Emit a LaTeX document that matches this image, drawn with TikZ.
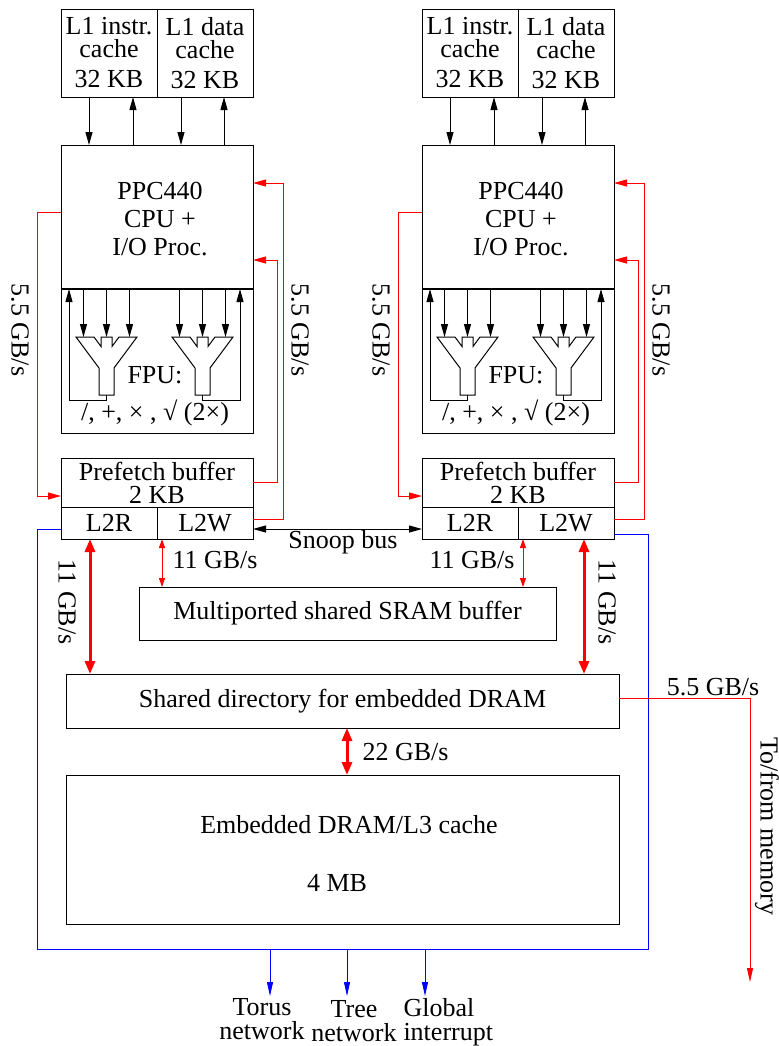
\documentclass[tikz,border=0pt]{standalone}
\usepackage{fontspec}
\setmainfont{Liberation Serif}
\usetikzlibrary{arrows.meta,positioning}

\begin{document}
\begin{tikzpicture}[
        x=0.5pt, y=-0.5pt,
        line width=0.5pt,
        every node/.style={font=\fontsize{13}{14}\selectfont},
        >={Triangle[length=6.5pt,width=3.5pt]},
        box/.style={draw, rectangle, inner sep=0pt, outer sep=0pt, align=center},
        txt/.style={inner sep=0pt, align=center, text=black},
        rot/.style={inner sep=0pt, rotate=-90},
        bus/.style={line width=1pt},
        rline/.style={red, ->},
        bline/.style={blue},
        barr/.style={blue, ->, >={Triangle[length=7pt,width=3pt]}},
        netlbl/.style={txt, font=\fontsize{13}{12}\selectfont},
        thinr/.style={red, <->, >={Triangle[length=4.5pt,width=3pt]}},
        thickr/.style={red, <->, line width=1.5pt, >={Triangle[length=6.5pt,width=5pt]}}
    ]
        \useasboundingbox (0,0) rectangle (779,1046);

        % Shared memory blocks
        \node[box, minimum width=208.5pt, minimum height=26.5pt] (sram) at (347.5,613.5) {Multiported shared SRAM buffer};
        \node[box, minimum width=276.5pt, minimum height=27pt] (dir) at (342.5,701) {Shared directory for embedded DRAM};
        \node[box, minimum width=276.5pt, minimum height=74.5pt] (dram) at (342.5,849.5) {};
        \node[txt] (dramtxt) at (349,825) {Embedded DRAM/L3 cache};
        \node[txt] (dramsize) at (337,883) {4 MB};

        % Two processor cores
        \foreach \s/\dx in {L/0, R/361} {
            \node[box, minimum width=48pt, minimum height=44pt, font=\fontsize{13}{11.5}\selectfont] (l1i\s) at (109+\dx,53) {L1 instr.\\cache\\[3.5pt]32 KB};
            \node[box, minimum width=48pt, minimum height=44pt, font=\fontsize{13}{11.5}\selectfont, right=0pt of l1i\s] (l1d\s) {L1 data\\cache\\[3.5pt]32 KB};

            \node[box, minimum width=96pt, minimum height=144pt] (cpu\s) at (157+\dx,289) {};
            \node[txt] (cputxt\s) at (160+\dx,219) {PPC440\\CPU +\\I/O Proc.};
            \draw[bus] (cpu\s.west) -- (cpu\s.east);

            % FPU pipes
            \foreach \c/\side in {106.5/-1, 202.5/1} {
                \begin{scope}[shift={(\c+\dx,337)}]
                    \draw (-30.5,0) -- (-12.5,0) -- (-5.5,9.5) -- (-5.5,0) -- (5.5,0) -- (5.5,9.5) -- (12.5,0) -- (30.5,0)
                        -- (7.5,31) -- (7.5,58) -- (-7.5,58) -- (-7.5,31) -- cycle;
                    \foreach \a in {-23,0,23}
                        \draw[->] (\a,-48) -- (\a,0);
                    \draw[->] (0,58) -- (0,63) -- (\side*37.5,63) -- (\side*37.5,-48);
                \end{scope}
            }
            \node[txt] (fpu\s) at (155+\dx,375) {FPU:};
            \node[txt] (ops\s) at (155+\dx,413) {/, +, × , √ (2×)};

            \node[box, minimum width=96pt, minimum height=24.5pt, font=\fontsize{13}{11.5}\selectfont] (pf\s) at (157+\dx,482.5) {Prefetch buffer\\2 KB};
            \node[box, minimum width=48pt, minimum height=16pt] (l2r\s) at (109+\dx,523) {L2R};
            \node[box, minimum width=48pt, minimum height=16pt] (l2w\s) at (205+\dx,523) {L2W};

            % L1 <-> CPU
            \draw[->] ([xshift=-10pt]l1i\s.south) -- ([xshift=-10pt]l1i\s.south |- cpu\s.north);
            \draw[<-] ([xshift=12pt]l1i\s.south) -- ([xshift=12pt]l1i\s.south |- cpu\s.north);
            \draw[->] ([xshift=-12pt]l1d\s.south) -- ([xshift=-12pt]l1d\s.south |- cpu\s.north);
            \draw[<-] ([xshift=9.5pt]l1d\s.south) -- ([xshift=9.5pt]l1d\s.south |- cpu\s.north);

            % CPU <-> prefetch buffer
            \draw[rline] ([yshift=38.5pt]cpu\s.west) -| (37+\dx,496) -- ([yshift=-6.75pt]pf\s.west);
            \draw[rline] (pf\s.east) -| (277+\dx,260) -- ([yshift=14.5pt]cpu\s.east);
            \draw[rline] ([yshift=2pt]l2w\s.east) -| (283+\dx,183) -- ([yshift=53pt]cpu\s.east);
            \node[rot] (bwl\s) at (20+\dx,330) {5.5 GB/s};
            \node[rot] (bwr\s) at (300+\dx,330) {5.5 GB/s};

            \draw[thinr] ([xshift=2.5pt]l2w\s.south west) -- ([xshift=2.5pt]l2w\s.south west |- sram.north);
        }

        % L2 <-> directory <-> DRAM
        \draw[thickr] ([xshift=-9.5pt]l2rL.south) -- ([xshift=-9.5pt]l2rL.south |- dir.north);
        \draw[thickr] ([xshift=9pt]l2wR.south) -- ([xshift=9pt]l2wR.south |- dir.north);
        \draw[thickr] ([xshift=2.25pt]dir.south) -- ([xshift=2.25pt]dir.south |- dram.north);
        \node[txt] (bw11l) at (215,560) {11 GB/s};
        \node[txt] (bw11r) at (472,560) {11 GB/s};
        \node[rot] (bw11lv) at (67,602) {11 GB/s};
        \node[rot] (bw11rv) at (607,602) {11 GB/s};
        \node[txt, anchor=west] (bw22) at (362,752) {22 GB/s};

        % Snoop bus
        \draw[<->] ([yshift=-3pt]l2wL.east) -- ([yshift=-3pt]l2rR.west);
        \node[txt] (snoop) at (343,542) {Snoop bus};

        % Networks
        \draw[bline] ([yshift=-3pt]l2rL.west) -| (37,949) -| (648,534) -- ([yshift=-5.5pt]l2wR.east);
        \draw[barr] (270,949) -- ++(0,47) node[netlbl, below=1pt, xshift=-4pt] (torus) {Torus\\network};
        \draw[barr] (347,949) -- ++(0,47) node[netlbl, below=2pt, xshift=3.5pt] (tree) {Tree\\network};
        \draw[barr] (425,949) -- ++(0,47) node[netlbl, align=left, anchor=north west, xshift=-11pt, yshift=-1pt] (global) {Global\\interrupt};

        % Memory
        \draw[rline, >={Triangle[length=7pt,width=3pt]}] ([yshift=1.5pt]dir.east) -| (750,982);
        \node[txt] (bwmem) at (713,687) {5.5 GB/s};
        \node[rot] (mem) at (767,826) {To/from memory};
\end{tikzpicture}
\end{document}
